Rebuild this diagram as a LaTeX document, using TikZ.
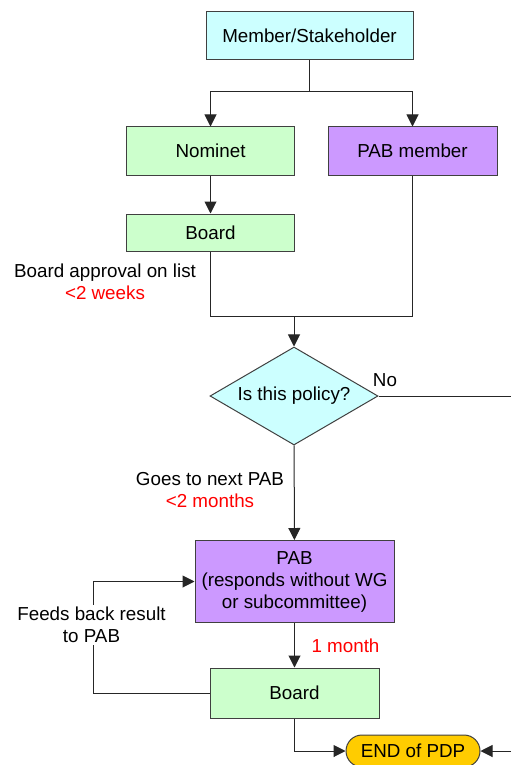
\documentclass[tikz,border=0pt]{standalone}
\usepackage{fontspec}
\setmainfont{Liberation Sans}
\usetikzlibrary{arrows.meta,shapes.geometric}
\definecolor{pdpcyan}{HTML}{CCFFFF}
\definecolor{pdpgreen}{HTML}{CCFFCC}
\definecolor{pdppurple}{HTML}{CC99FF}
\definecolor{pdporange}{HTML}{FFCC00}
\begin{document}
\begin{tikzpicture}[x=0.5pt,y=-0.5pt,font=\fontsize{9.4}{11}\selectfont]
        \tikzstyle{box}=[rectangle,draw=black!75,line width=0.5pt,inner sep=1pt,align=center]
        \tikzstyle{edge}=[draw,line width=0.5pt,black!85]
        \tikzstyle{arrow}=[-{Triangle[length=6pt,width=6pt]}]
        \tikzstyle{note}=[align=center,inner sep=1pt]
        \useasboundingbox (0,0) rectangle (511,765);
        \begin{scope}
         \node [box,fill=pdpcyan,minimum width=103.5pt,minimum height=24pt] (member) at (309.5,36) {Member/Stakeholder};
         \node [box,fill=pdpgreen,minimum width=84pt,minimum height=24pt] (nominet) at (210.5,151) {Nominet};
         \node [box,fill=pdppurple,minimum width=84.5pt,minimum height=24pt] (pabmember) at (412.5,151) {PAB member};
         \node [box,fill=pdpgreen,minimum width=84pt,minimum height=18.5pt] (board) at (210.5,232.5) {Board};
         \node [diamond,aspect=1.71,draw=black!75,line width=0.5pt,fill=pdpcyan,inner sep=0pt,minimum width=84pt,minimum height=49pt] (policy) at (294,396) {Is this policy?};
         \node [box,fill=pdppurple,minimum width=99.5pt,minimum height=41pt] (pab) at (294.5,581.5) {PAB\\(responds without WG\\or subcommittee)};
         \node [box,fill=pdpgreen,minimum width=84.5pt,minimum height=25pt] (boardtwo) at (294.5,693) {Board};
         \node [box,fill=pdporange,rounded corners=8pt,minimum width=67pt,minimum height=16pt] (end) at (413,751) {END of PDP};

         \coordinate (split) at (309.5,92);
         \coordinate (merge) at (294,316);
         \coordinate (noout) at (511,396);
         \coordinate (endin) at (511,751);
         \coordinate (fback) at (93,581.5);

         \path[edge] (member) -- (split);
         \path[edge,arrow] (split) -| (nominet);
         \path[edge,arrow] (split) -| (pabmember);
         \path[edge,arrow] (nominet) -- (board);
         \path[edge] (board) |- (merge);
         \path[edge] (pabmember) |- (merge);
         \path[edge,arrow] (merge) -- (policy);
         \path[edge] (policy) -- (noout);
         \path[edge,arrow] (policy) -- (pab);
         \path[edge,arrow] (pab) -- (boardtwo);
         \path[edge,arrow] (boardtwo.west) -| (fback) -- (pab.west);
         \path[edge,arrow] (boardtwo) |- (end);
         \path[edge,arrow] (endin) -- (end);

         \node [note] (approval) at (105,282) {Board approval on list\\\textcolor{red}{<2 weeks}};
         \node [note] (no) at (385,380) {No};
         \node [note] (nextpab) at (210,490) {Goes to next PAB\\\textcolor{red}{<2 months}};
         \node [note,text=red] (month) at (345.5,646) {1 month};
         \node [note,fill=white] (feeds) at (91.5,625) {Feeds back result\\to PAB};
        \end{scope}
\end{tikzpicture}
\end{document}
